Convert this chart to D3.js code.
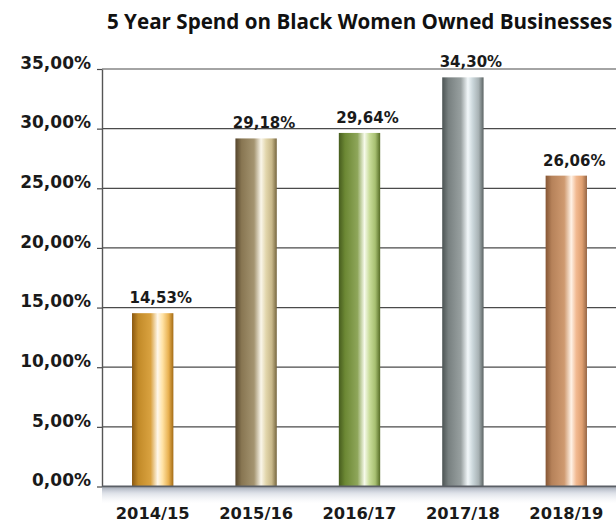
<!DOCTYPE html>
<html>
<head>
<meta charset="utf-8">
<script src="https://cdn.jsdelivr.net/npm/d3@7"></script>
<style>
  html, body { margin: 0; padding: 0; background: #fff; }
  svg { display: block; }
</style>
</head>
<body>
<script>
// Share of spend going to Black women owned businesses, per financial year
const categories = ["2014/15", "2015/16", "2016/17", "2017/18", "2018/19"];
const values = [14.53, 29.18, 29.64, 34.30, 26.06];
const valueLabels = ["14,53%", "29,18%", "29,64%", "34,30%", "26,06%"];
const tickValues = [0, 5, 10, 15, 20, 25, 30, 35];
const tickLabels = ["0,00%", "5,00%", "10,00%", "15,00%", "20,00%", "25,00%", "30,00%", "35,00%"];
const title = "5 Year Spend on Black Women Owned Businesses";

// Metallic colour ramps, one per bar (left edge → highlight → right edge)
const barRamps = [
  ["#8a5810", "#c28a28", "#d9a240", "#fff8ea", "#ffe2a4", "#e9b252", "#a46c16"],
  ["#55452c", "#887652", "#a49470", "#faf6ea", "#e2d6ac", "#c8b88a", "#76663f"],
  ["#465c1e", "#6c8834", "#8ea65a", "#f6faea", "#cadd9c", "#a8c072", "#566c26"],
  ["#4c5454", "#788080", "#98a0a0", "#f2f8fa", "#cad6da", "#a8b2b4", "#5c6464"],
  ["#865634", "#b6825a", "#cf9a70", "#fff2e6", "#f2ba92", "#e0a070", "#966646"]
];
const rampStops = [0, 0.15, 0.45, 0.62, 0.74, 0.88, 1];

const W = 616, H = 523;
const svg = d3.select("body").append("svg").attr("width", W).attr("height", H);
const defs = svg.append("defs");

barRamps.forEach((ramp, i) => {
  const g = defs.append("linearGradient").attr("id", "bar" + i)
    .attr("x1", "0").attr("x2", "1").attr("y1", "0").attr("y2", "0");
  ramp.forEach((c, k) => g.append("stop").attr("offset", rampStops[k]).attr("stop-color", c));
});

const shade = defs.append("linearGradient").attr("id", "floor")
  .attr("x1", "0").attr("x2", "0").attr("y1", "0").attr("y2", "1");
shade.append("stop").attr("offset", 0).attr("stop-color", "#8e97a8").attr("stop-opacity", 0.75);
shade.append("stop").attr("offset", 0.35).attr("stop-color", "#b4bccb").attr("stop-opacity", 0.45);
shade.append("stop").attr("offset", 1).attr("stop-color", "#dfe4ec").attr("stop-opacity", 0);

const axisX = 102;
const x = d3.scaleBand().domain(categories).range([101, 618]).paddingInner(0.6).paddingOuter(0.3);
const y = d3.scaleLinear().domain([0, 35]).range([486.5, 69]);

// Title
svg.append("text")
  .attr("x", 107).attr("y", 29)
  .attr("font-family", "'Open Sans', sans-serif")
  .attr("font-weight", 700)
  .attr("font-size", 20.6)
  .attr("fill", "#111")
  .text(title);

// Soft floor shadow under the baseline
svg.append("rect")
  .attr("x", axisX).attr("y", y(0) + 1)
  .attr("width", W - axisX).attr("height", 16)
  .attr("fill", "url(#floor)");

// Horizontal gridlines
svg.append("g").selectAll("line").data(tickValues.filter(v => v > 0)).join("line")
  .attr("x1", axisX).attr("x2", W)
  .attr("y1", d => y(d)).attr("y2", d => y(d))
  .attr("stroke", "#4a4a4a").attr("stroke-width", 1.2);

// Y axis with labels
const yAxis = d3.axisLeft(y)
  .tickValues(tickValues)
  .tickFormat((d, i) => tickLabels[i])
  .tickSize(5).tickSizeOuter(0).tickPadding(6);
const gy = svg.append("g").attr("transform", `translate(${axisX},0)`).call(yAxis);
gy.select(".domain").attr("stroke", "#555").attr("stroke-width", 1.4);
gy.selectAll(".tick line").attr("stroke", "#4a4a4a").attr("stroke-width", 1.2);
gy.selectAll(".tick text")
  .attr("dy", "-0.05em")
  .attr("font-family", "'DejaVu Sans', sans-serif")
  .attr("font-weight", 700)
  .attr("font-size", 17)
  .attr("fill", "#1a1a1a");

// Bars
svg.append("g").selectAll("rect").data(values).join("rect")
  .attr("x", (d, i) => x(categories[i]))
  .attr("width", x.bandwidth())
  .attr("y", d => y(d))
  .attr("height", d => y(0) - y(d))
  .attr("fill", (d, i) => `url(#bar${i})`);

// Baseline
svg.append("line")
  .attr("x1", axisX).attr("x2", W)
  .attr("y1", y(0)).attr("y2", y(0))
  .attr("stroke", "#5a5f66").attr("stroke-width", 2);

// Value labels
svg.append("g").selectAll("text").data(values).join("text")
  .attr("x", (d, i) => x(categories[i]) + x.bandwidth() / 2 + 8)
  .attr("y", d => y(d) - 10)
  .attr("text-anchor", "middle")
  .attr("font-family", "'DejaVu Sans', sans-serif")
  .attr("font-weight", 700)
  .attr("font-size", 15)
  .attr("fill", "#1a1a1a")
  .text((d, i) => valueLabels[i]);

// Category labels
svg.append("g").selectAll("text").data(categories).join("text")
  .attr("x", d => x(d) + x.bandwidth() / 2)
  .attr("y", 519)
  .attr("text-anchor", "middle")
  .attr("font-family", "'DejaVu Sans', sans-serif")
  .attr("font-weight", 700)
  .attr("font-size", 16.3)
  .attr("fill", "#1a1a1a")
  .text(d => d);
</script>
</body>
</html>
